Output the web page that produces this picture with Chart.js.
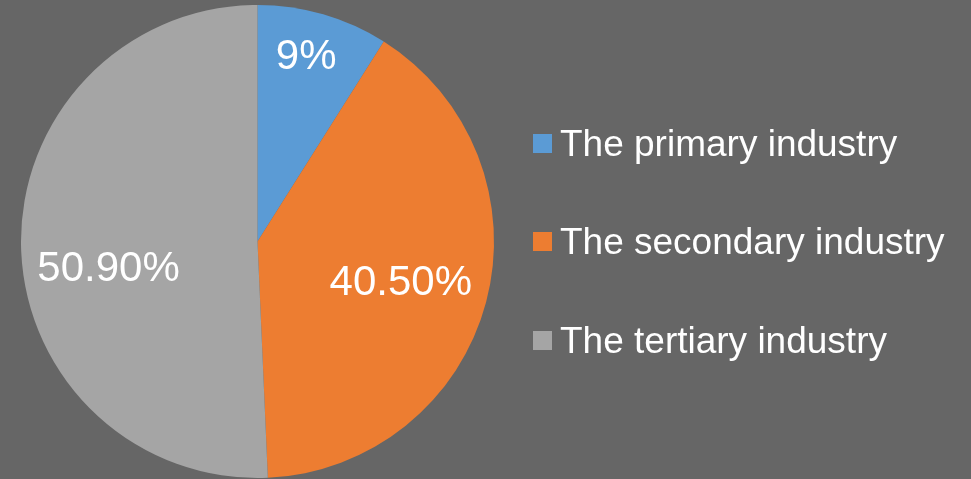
<!DOCTYPE html>
<html>
<head>
<meta charset="utf-8">
<script src="https://cdn.jsdelivr.net/npm/chart.js@4.4.1/dist/chart.umd.min.js"></script>
<style>
  html, body { margin: 0; padding: 0; background: #666666; }
  .wrap { position: relative; width: 971px; height: 479px; overflow: hidden; }
  canvas { position: absolute; left: 0; top: 0; }
  .legend { position: absolute; left: 533px; top: 94px; font-family: "Liberation Sans", Arial, sans-serif; color: #fff; }
  .legend-row { display: flex; align-items: center; height: 98.5px; font-size: 37px; line-height: 37px; white-space: nowrap; }
  .legend-row i { display: inline-block; width: 19px; height: 19px; margin-right: 8px; }
</style>
</head>
<body>
<div class="wrap">
  <canvas id="pie" width="971" height="479"></canvas>
  <div class="legend" id="legend"></div>
</div>
<script>
/* industry share pie */
const categories = ["The primary industry", "The secondary industry", "The tertiary industry"];
const shares = [9, 40.5, 50.9];
const shareLabels = ["9%", "40.50%", "50.90%"];
const colors = ["#5B9BD5", "#ED7D31", "#A5A5A5"];

const FONT = '"Liberation Sans", Arial, sans-serif';

/* in-slice labels: radius fraction + small angle nudge (deg) per slice */
const sliceLabels = {
  id: "sliceLabels",
  afterDatasetsDraw(chart, _args, opts) {
    const { ctx } = chart;
    const meta = chart.getDatasetMeta(0);
    ctx.save();
    ctx.fillStyle = opts.color;
    ctx.font = `${opts.size}px ${FONT}`;
    ctx.textAlign = "center";
    ctx.textBaseline = "middle";
    meta.data.forEach((arc, i) => {
      const p = arc.getProps(["x", "y", "startAngle", "endAngle", "outerRadius"], true);
      const place = opts.place[i] || { r: 0.65, da: 0 };
      const mid = (p.startAngle + p.endAngle) / 2 + (place.da * Math.PI) / 180;
      const r = p.outerRadius * place.r;
      ctx.fillText(shareLabels[i], p.x + Math.cos(mid) * r, p.y + Math.sin(mid) * r + 1);
    });
    ctx.restore();
  },
};

new Chart(document.getElementById("pie"), {
  type: "pie",
  data: {
    labels: categories,
    datasets: [{ data: shares, backgroundColor: colors, borderWidth: 0 }],
  },
  options: {
    responsive: false,
    devicePixelRatio: 1,
    animation: false,
    layout: { padding: { left: 21, right: 477, top: 5, bottom: 1 } },
    plugins: {
      legend: { display: false },
      tooltip: { enabled: false },
      sliceLabels: {
        color: "#ffffff",
        size: 42,
        place: [{ r: 0.81, da: -1.4 }, { r: 0.63, da: 1 }, { r: 0.64, da: -8.9 }],
      },
    },
  },
  plugins: [sliceLabels],
});

/* legend built from the same arrays */
document.getElementById("legend").innerHTML = categories
  .map((c, i) => `<div class="legend-row"><i style="background:${colors[i]}"></i>${c}</div>`)
  .join("");
</script>
</body>
</html>
